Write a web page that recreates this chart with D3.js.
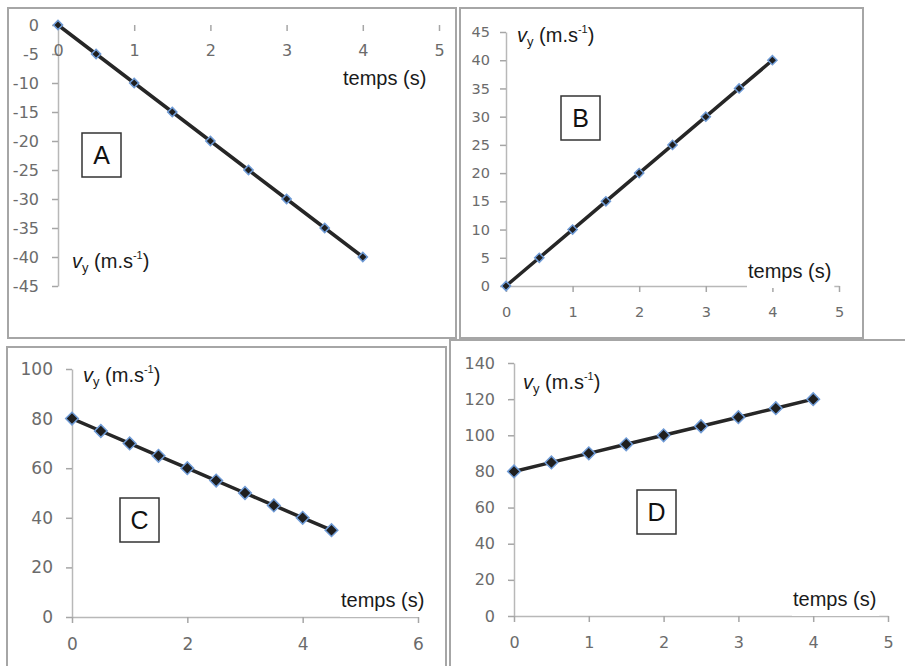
<!DOCTYPE html>
<html>
<head>
<meta charset="utf-8">
<script src="https://cdn.jsdelivr.net/npm/d3@7"></script>
<style>
  body { margin: 0; background: #fff; }
  svg { display: block; }
  .tick text { font-family: "DejaVu Sans", sans-serif; fill: #6b6b6b; }
  .tick line { stroke: #a6a6a6; stroke-width: 1.5; }
  .domain { stroke: #b8b8b8; stroke-width: 1.5; }
  .lbl { font-family: "Liberation Sans", Arial, sans-serif; font-size: 20px; fill: #1a1a1a; }
  .box-letter { font-family: "Liberation Sans", Arial, sans-serif; font-size: 25px; fill: #111; }
</style>
</head>
<body>
<div id="chart"></div>
<script>
// vitesse verticale en fonction du temps, 4 graphiques
const timesA = [0, 0.5, 1, 1.5, 2, 2.5, 3, 3.5, 4];
const vyA = [0, -5, -10, -15, -20, -25, -30, -35, -40];
const xTicksA = [0, 1, 2, 3, 4, 5];
const yTicksA = [0, -5, -10, -15, -20, -25, -30, -35, -40, -45];

const timesB = [0, 0.5, 1, 1.5, 2, 2.5, 3, 3.5, 4];
const vyB = [0, 5, 10, 15, 20, 25, 30, 35, 40];
const xTicksB = [0, 1, 2, 3, 4, 5];
const yTicksB = [0, 5, 10, 15, 20, 25, 30, 35, 40, 45];

const timesC = [0, 0.5, 1, 1.5, 2, 2.5, 3, 3.5, 4, 4.5];
const vyC = [80, 75, 70, 65, 60, 55, 50, 45, 40, 35];
const xTicksC = [0, 2, 4, 6];
const yTicksC = [0, 20, 40, 60, 80, 100];

const timesD = [0, 0.5, 1, 1.5, 2, 2.5, 3, 3.5, 4];
const vyD = [80, 85, 90, 95, 100, 105, 110, 115, 120];
const xTicksD = [0, 1, 2, 3, 4, 5];
const yTicksD = [0, 20, 40, 60, 80, 100, 120, 140];

const panelNames = ['A', 'B', 'C', 'D'];

const svg = d3.select('#chart').append('svg')
    .attr('width', 905)
    .attr('height', 666);

// plain hyphen for negatives, like the spreadsheet
const fmt = d => String(d);

function drawPanel(opt) {
    const g = svg.append('g');

    // Frame
    g.append('rect')
        .attr('x', opt.frame[0]).attr('y', opt.frame[1])
        .attr('width', opt.frame[2] - opt.frame[0])
        .attr('height', opt.frame[3] - opt.frame[1])
        .attr('fill', '#fff')
        .attr('stroke', '#a6a6a6')
        .attr('stroke-width', 2);

    const x = d3.scaleLinear().domain(opt.xDomain).range(opt.xRange);
    const y = d3.scaleLinear().domain(opt.yDomain).range(opt.yRange);

    // Y axis
    const yAxis = g.append('g')
        .attr('transform', `translate(${x(0)},0)`)
        .call(d3.axisLeft(y).tickValues(opt.yTicks).tickFormat(fmt)
            .tickSize(6).tickSizeOuter(0).tickPadding(opt.yPad));
    yAxis.selectAll('.tick text').style('font-size', opt.font + 'px');

    // X axis (crosses at y = 0)
    const xAxis = g.append('g')
        .attr('transform', `translate(0,${y(0)})`)
        .call(d3.axisBottom(x).tickValues(opt.xTicks).tickFormat(fmt)
            .tickSize(6).tickSizeOuter(0).tickPadding(opt.xPad));
    xAxis.selectAll('.tick text').style('font-size', opt.font + 'px');
    if (opt.hideXDomain) xAxis.select('.domain').remove();
    if (opt.skipZeroX) xAxis.selectAll('.tick line').filter(d => d === 0).remove();

    // Label "temps (s)" with white background covering the axis
    const t = g.append('text')
        .attr('class', 'lbl')
        .attr('x', opt.tempsPos[0])
        .attr('y', opt.tempsPos[1])
        .text('temps (s)');
    if (opt.tempsBg) {
        const bb = t.node().getBBox();
        g.insert('rect', () => t.node())
            .attr('x', bb.x - 1).attr('y', bb.y)
            .attr('width', bb.width + 4).attr('height', bb.height + 6)
            .attr('fill', '#fff');
    }

    // Label vy (m.s-1)
    const v = g.append('text')
        .attr('class', 'lbl')
        .attr('x', opt.vyPos[0])
        .attr('y', opt.vyPos[1]);
    v.append('tspan').attr('font-style', 'italic').text('v');
    v.append('tspan').attr('font-size', '13px').attr('dy', 4).text('y');
    v.append('tspan').attr('dy', -4).text(' (m.s');
    v.append('tspan').attr('font-size', '11px').attr('dy', -9).text('-1');
    v.append('tspan').attr('dy', 9).text(')');

    // Letter box
    g.append('rect')
        .attr('x', opt.box[0]).attr('y', opt.box[1])
        .attr('width', 39).attr('height', 44)
        .attr('fill', '#fff')
        .attr('stroke', '#333')
        .attr('stroke-width', 1.5);
    g.append('text')
        .attr('class', 'box-letter')
        .attr('x', opt.box[0] + 19.5)
        .attr('y', opt.box[1] + 22)
        .attr('text-anchor', 'middle')
        .attr('dy', '0.36em')
        .text(opt.name);

    // Series
    const pts = opt.times.map((tv, i) => [tv, opt.values[i]]);
    g.append('path')
        .datum(pts)
        .attr('fill', 'none')
        .attr('stroke', '#262626')
        .attr('stroke-width', 3.5)
        .attr('d', d3.line().x(d => x(d[0])).y(d => y(d[1])));

    g.selectAll('.marker')
        .data(pts)
        .enter()
        .append('path')
        .attr('class', 'marker')
        .attr('transform', d => `translate(${x(d[0])},${y(d[1])}) rotate(45)`)
        .attr('d', d3.symbol().type(d3.symbolSquare).size(opt.marker))
        .attr('fill', '#1f1f1f')
        .attr('stroke', '#6f9bd6')
        .attr('stroke-width', 1.5);
}

drawPanel({
    name: panelNames[0], times: timesA, values: vyA, xTicks: xTicksA, yTicks: yTicksA,
    frame: [8, 8, 456, 338],
    xDomain: [0, 5], xRange: [58, 439], yDomain: [-45, 0], yRange: [286, 25],
    font: 16, xPad: 14, yPad: 13, hideXDomain: true, skipZeroX: true,
    tempsPos: [343, 85], vyPos: [72, 268], box: [82, 133], marker: 42
});

drawPanel({
    name: panelNames[1], times: timesB, values: vyB, xTicks: xTicksB, yTicks: yTicksB,
    frame: [460, 8, 863, 338],
    xDomain: [0, 5], xRange: [506, 839], yDomain: [0, 45], yRange: [286, 32],
    font: 14.5, xPad: 15, yPad: 10, tempsBg: true,
    tempsPos: [748, 278], vyPos: [517, 42], box: [561, 96], marker: 42
});

drawPanel({
    name: panelNames[2], times: timesC, values: vyC, xTicks: xTicksC, yTicks: yTicksC,
    frame: [7, 347, 446, 680],
    xDomain: [0, 6], xRange: [72, 418], yDomain: [0, 100], yRange: [617, 369],
    font: 17, xPad: 15, yPad: 13, tempsBg: true,
    tempsPos: [341, 607], vyPos: [83, 382], box: [120, 498], marker: 80
});

drawPanel({
    name: panelNames[3], times: timesD, values: vyD, xTicks: xTicksD, yTicks: yTicksD,
    frame: [450, 340, 912, 680],
    xDomain: [0, 5], xRange: [514, 888], yDomain: [0, 140], yRange: [616, 363],
    font: 16, xPad: 15, yPad: 13, tempsBg: true,
    tempsPos: [793, 606], vyPos: [523, 389], box: [637, 490], marker: 80
});
</script>
</body>
</html>
